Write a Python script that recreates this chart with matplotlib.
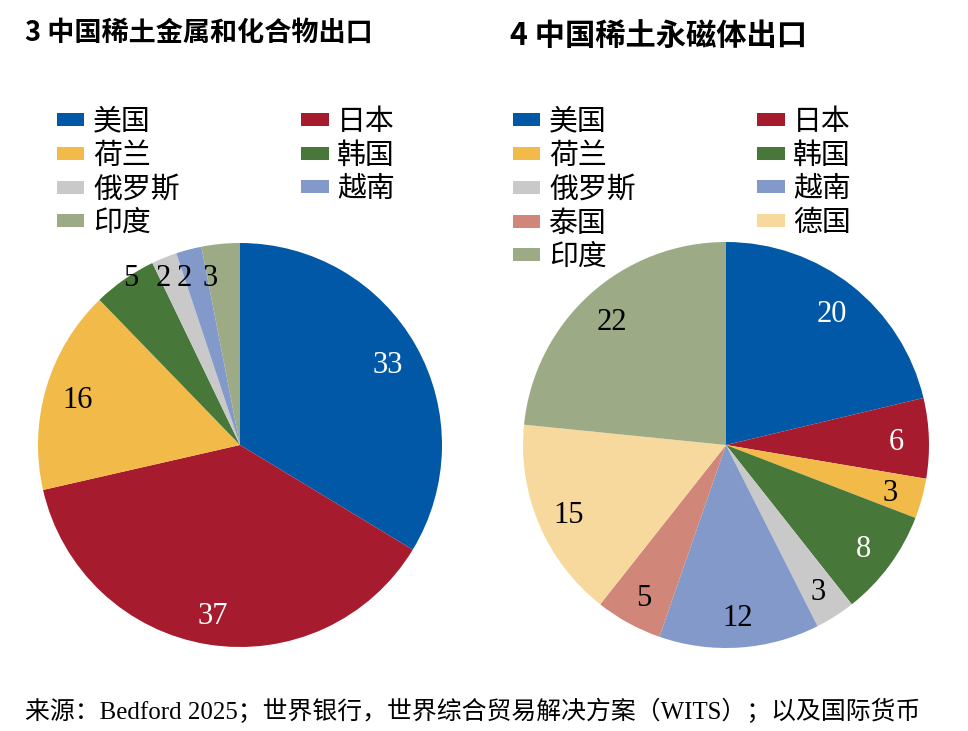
import numpy as np
import matplotlib.pyplot as plt
from matplotlib.patches import Patch

# left chart: rare-earth metals and compounds exports (%)
left_names = ["美国", "日本", "荷兰", "韩国", "俄罗斯", "越南", "印度"]
left_values = [33, 37, 16, 5, 2, 2, 3]

# right chart: rare-earth permanent magnet exports (%)
right_names = ["美国", "日本", "荷兰", "韩国", "俄罗斯", "越南", "泰国", "德国", "印度"]
right_values = [20, 6, 3, 8, 3, 12, 5, 15, 22]

colors = {
    "美国": "#0058a6",
    "日本": "#a61c2e",
    "荷兰": "#f2ba48",
    "韩国": "#48773a",
    "俄罗斯": "#c9c9c9",
    "越南": "#8299c9",
    "泰国": "#d0877a",
    "德国": "#f7d99e",
    "印度": "#9cab86",
}

left_legend_cols = [["美国", "荷兰", "俄罗斯", "印度"], ["日本", "韩国", "越南"]]
right_legend_cols = [["美国", "荷兰", "俄罗斯", "泰国", "印度"], ["日本", "韩国", "越南", "德国"]]

serif = ["Liberation Serif", "Noto Sans CJK SC"]
sans = ["Noto Sans CJK SC", "DejaVu Sans"]

W, H = 968, 731
fig = plt.figure(figsize=(W / 100, H / 100), dpi=100)


def px_rect(x0, y0, x1, y1):
    return [x0 / W, 1 - y1 / H, (x1 - x0) / W, (y1 - y0) / H]


def draw_pie(rect, names, values, white, rim_small=False):
    ax = fig.add_axes(rect)
    cols = [colors[n] for n in names]
    wedges, _ = ax.pie(values, colors=cols, startangle=90, counterclock=False,
                       radius=1, wedgeprops=dict(linewidth=0))
    for w, n, v in zip(wedges, names, values):
        mid = np.deg2rad((w.theta1 + w.theta2) / 2)
        if rim_small and v <= 5:
            # small slices: labels lined up along the rim
            x, y = 0.82 * np.cos(mid) - 0.07, 0.84
        else:
            x, y = 0.84 * np.cos(mid), 0.84 * np.sin(mid)
        c = "white" if n in white else "black"
        ax.text(x, y, str(v), ha="center", va="center_baseline", fontsize=22,
                color=c, family=serif)
    ax.set_xlim(-1, 1)
    ax.set_ylim(-1, 1)
    ax.set_aspect("equal")
    ax.axis("off")
    return ax


draw_pie(px_rect(38, 243, 442, 647), left_names, left_values, ("美国", "日本"), rim_small=True)
draw_pie(px_rect(523, 242, 929, 648), right_names, right_values, ("美国", "日本", "韩国"))


def add_legend(cols_order, anchor):
    handles = []
    labels = []
    for col in cols_order:
        for n in col:
            handles.append(Patch(facecolor=colors[n], edgecolor="none"))
            labels.append(n)
    fig.legend(handles, labels, ncol=2, loc="upper left", bbox_to_anchor=anchor,
               frameon=False, prop={"family": serif, "size": 20.8},
               handlelength=0.95, handleheight=0.32, handletextpad=0.3,
               labelspacing=0.25, columnspacing=4.2, borderpad=0, borderaxespad=0)


add_legend(left_legend_cols, (57 / W, 1 - 109 / H))
add_legend(right_legend_cols, (513 / W, 1 - 109 / H))

fig.text(25 / W, 1 - 33 / H, "3 中国稀土金属和化合物出口", ha="left", va="center",
         fontsize=19.5, fontweight="bold", family=sans)
fig.text(510 / W, 1 - 36 / H, "4 中国稀土永磁体出口", ha="left", va="center",
         fontsize=21.8, fontweight="bold", family=sans)
fig.text(25 / W, 1 - 711 / H, "来源：Bedford 2025；世界银行，世界综合贸易解决方案（WITS）；以及国际货币",
         ha="left", va="center", fontsize=17.9, family=serif)

fig.savefig("out.png", dpi=100)
